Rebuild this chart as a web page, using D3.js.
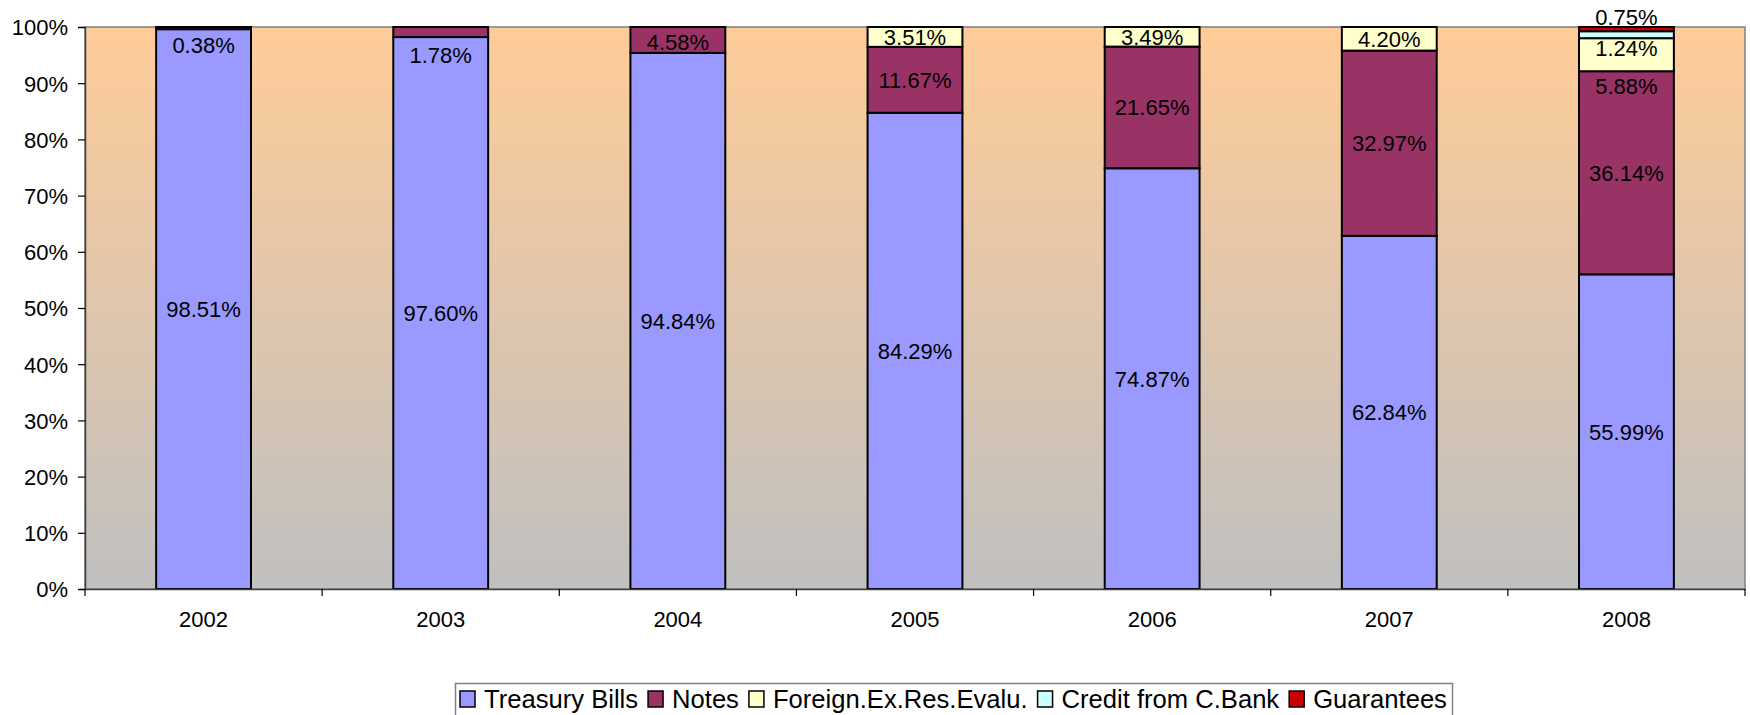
<!DOCTYPE html>
<html>
<head>
<meta charset="utf-8">
<script src="https://cdn.jsdelivr.net/npm/d3@7"></script>
<style>
  html, body { margin: 0; padding: 0; background: #fff; }
  svg { display: block; font-family: "Liberation Sans", Arial, sans-serif; }
</style>
</head>
<body>
<svg id="chart" width="1750" height="715"></svg>
<script>
// ---- data ----
const years = ["2002", "2003", "2004", "2005", "2006", "2007", "2008"];
const seriesNames = ["Treasury Bills", "Notes", "Foreign.Ex.Res.Evalu.", "Credit from C.Bank", "Guarantees"];
const treasuryBills = [98.51, 97.60, 94.84, 84.29, 74.87, 62.84, 55.99];
const notes         = [0.38, 1.78, 4.58, 11.67, 21.65, 32.97, 36.14];
const foreignEx     = [0, 0, 0, 3.51, 3.49, 4.20, 5.88];
const creditCBank   = [0, 0, 0, 0, 0, 0, 1.24];
const guarantees    = [0, 0, 0, 0, 0, 0, 0.75];
const yTicks = [0, 10, 20, 30, 40, 50, 60, 70, 80, 90, 100];

// ---- styling / layout ----
const colors = ["#9999FF", "#993366", "#FFFFCC", "#CCFFFF", "#CC0000"];
const M = { left: 85, right: 1745, top: 27, bottom: 589 };
// manual label nudges (px) where the original labels were moved off small segments
const labelNudge = { "1-2002": 17, "1-2003": 23, "1-2004": 2, "2-2008": 31, "3-2008": 13, "4-2008": -12 };

const allSeries = [treasuryBills, notes, foreignEx, creditCBank, guarantees];
const rows = years.map((y, i) => {
  const r = { year: y };
  seriesNames.forEach((s, k) => r[s] = allSeries[k][i]);
  return r;
});

const stack = d3.stack().keys(seriesNames).offset(d3.stackOffsetExpand);
const stacked = stack(rows);

const svg = d3.select("#chart");
const x = d3.scaleBand().domain(years).range([M.left, M.right]).paddingInner(0.6).paddingOuter(0.3);
const y = d3.scaleLinear().domain([0, 1]).range([M.bottom, M.top]);
const yPct = d3.scaleLinear().domain([0, 100]).range([M.bottom, M.top]);

// background gradient
const defs = svg.append("defs");
const grad = defs.append("linearGradient").attr("id", "bg").attr("x1", 0).attr("y1", 0).attr("x2", 0).attr("y2", 1);
grad.append("stop").attr("offset", "0%").attr("stop-color", "#FFCC99");
grad.append("stop").attr("offset", "100%").attr("stop-color", "#C0C0C0");

svg.append("rect")
  .attr("x", M.left).attr("y", M.top)
  .attr("width", M.right - M.left).attr("height", M.bottom - M.top)
  .attr("fill", "url(#bg)")
  .attr("stroke", "#808080").attr("stroke-width", 1.5);

// bars
const layers = svg.append("g").selectAll("g").data(stacked).join("g")
  .attr("fill", (d, i) => colors[i]);

layers.selectAll("rect")
  .data(d => d.filter(p => p.data[d.key] > 0))
  .join("rect")
  .attr("x", p => x(p.data.year))
  .attr("width", x.bandwidth())
  .attr("y", p => y(p[1]))
  .attr("height", p => y(p[0]) - y(p[1]))
  .attr("stroke", "#000")
  .attr("stroke-width", 2);

// data labels
const fmt = v => v.toFixed(2) + "%";
const labelG = svg.append("g");
stacked.forEach((layer, k) => {
  layer.forEach(p => {
    const v = p.data[layer.key];
    if (!(v > 0)) return;
    const nudge = labelNudge[k + "-" + p.data.year] || 0;
    labelG.append("text")
      .attr("x", x(p.data.year) + x.bandwidth() / 2)
      .attr("y", (y(p[0]) + y(p[1])) / 2 + nudge)
      .attr("dy", "0.36em")
      .attr("text-anchor", "middle")
      .attr("font-size", 22)
      .attr("fill", "#000")
      .text(fmt(v));
  });
});

// y axis
const yAxis = svg.append("g").attr("transform", `translate(${M.left},0)`)
  .call(d3.axisLeft(yPct).tickValues(yTicks).tickSize(7).tickPadding(10).tickFormat(d => d + "%"));
yAxis.select(".domain").attr("stroke", "#404040").attr("stroke-width", 1.5);
yAxis.selectAll(".tick line").attr("stroke", "#000").attr("stroke-width", 1.2);
yAxis.selectAll(".tick text").attr("font-size", 22).attr("font-family", "Liberation Sans, Arial, sans-serif").attr("fill", "#000").attr("dy", "0.36em");

// x axis
const xAxis = svg.append("g").attr("transform", `translate(0,${M.bottom})`)
  .call(d3.axisBottom(x).tickSize(0).tickPadding(22));
xAxis.select(".domain").attr("stroke", "#404040").attr("stroke-width", 1.5);
xAxis.selectAll(".tick text").attr("font-size", 22).attr("font-family", "Liberation Sans, Arial, sans-serif").attr("fill", "#000");
// tick marks at category boundaries
const bounds = d3.range(years.length + 1).map(i => M.left + i * ((M.right - M.left) / years.length));
xAxis.selectAll(".bnd").data(bounds).join("line")
  .attr("x1", d => d).attr("x2", d => d).attr("y1", 0).attr("y2", 7)
  .attr("stroke", "#000").attr("stroke-width", 1.2);

// legend
const lg = svg.append("g");
lg.append("rect")
  .attr("x", 455.5).attr("y", 683.5).attr("width", 997).attr("height", 40)
  .attr("fill", "#fff").attr("stroke", "#808080").attr("stroke-width", 1.5);
let cx = 460;
const gap = 10;
seriesNames.forEach((s, i) => {
  lg.append("rect").attr("x", cx).attr("y", 691).attr("width", 15).attr("height", 16)
    .attr("fill", colors[i]).attr("stroke", "#000").attr("stroke-width", 1.5);
  const t = lg.append("text").attr("x", cx + 24).attr("y", 707.5)
    .attr("font-size", 25.6).attr("fill", "#000").text(s);
  cx = cx + 24 + t.node().getComputedTextLength() + gap;
});
</script>
</body>
</html>
